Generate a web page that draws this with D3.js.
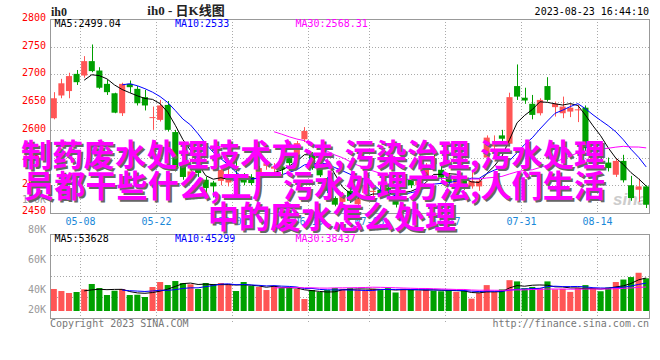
<!doctype html>
<html>
<head>
<meta charset="utf-8">
<title>ih0 - 日K线图</title>
<script src="https://d3js.org/d3.v7.min.js"></script>
<style>
  body { margin: 0; background: #fff; }
  text { font-family: "DejaVu Sans Mono", monospace; font-size: 10px; }
</style>
</head>
<body>
<script>

// trading days shown on the chart
var dates = ['04-27','04-28','05-04','05-05','05-08','05-09','05-10','05-11','05-12','05-15',
  '05-16','05-17','05-18','05-19','05-22','05-23','05-24','05-25','05-26','05-29',
  '05-30','05-31','06-01','06-02','06-05','06-06','06-07','06-08','06-09','06-12',
  '06-13','06-14','06-15','06-16','06-19','06-20','06-21','06-26','06-27','06-28',
  '06-29','06-30','07-03','07-04','07-05','07-06','07-07','07-10','07-11','07-12',
  '07-13','07-14','07-17','07-18','07-19','07-20','07-21','07-24','07-25','07-26',
  '07-27','07-28','07-31','08-01','08-02','08-03','08-04','08-07','08-08','08-09',
  '08-10','08-11','08-14','08-15','08-16','08-17','08-18','08-21','08-22'];

var open = [2621,2662,2670,2701,2698,2724,2707,2683,2666,2630,
  2683,2674,2659,2622,2618,2645,2596,2535,2512,2537,
  2510,2505,2508,2505,2520,2516,2515,2513,2535,2530,
  2534,2549,2555,2583,2556,2531,2513,2477,2470,2490,
  2466,2486,2488,2492,2496,2477,2501,2510,2500,2512,
  2548,2528,2518,2500,2510,2498,2498,2550,2570,2590,
  2575,2679,2658,2647,2630,2679,2641,2630,2633,2636,
  2640,2540,2558,2541,2519,2544,2500,2492,2498];
var high = [2668,2692,2703,2708,2733,2754,2713,2690,2667,2685,
  2689,2679,2672,2642,2654,2652,2600,2548,2530,2552,
  2515,2508,2533,2530,2555,2522,2520,2535,2545,2540,
  2538,2555,2580,2605,2560,2535,2515,2480,2488,2495,
  2480,2505,2495,2498,2500,2482,2516,2515,2515,2540,
  2556,2540,2522,2512,2515,2528,2512,2590,2590,2600,
  2667,2718,2676,2663,2657,2695,2651,2660,2647,2645,
  2644,2556,2565,2550,2548,2555,2517,2512,2500];
var low = [2619,2657,2657,2681,2694,2704,2674,2663,2630,2625,
  2667,2644,2635,2600,2615,2597,2525,2510,2505,2515,
  2480,2478,2500,2498,2500,2500,2500,2508,2528,2522,
  2515,2535,2550,2578,2528,2515,2486,2462,2465,2468,
  2460,2482,2478,2478,2480,2460,2498,2495,2496,2508,
  2532,2510,2500,2495,2492,2494,2490,2545,2562,2580,
  2570,2654,2647,2619,2626,2651,2624,2621,2623,2614,
  2562,2535,2545,2525,2515,2505,2472,2470,2459];
var close = [2657,2684,2697,2686,2724,2706,2676,2668,2631,2683,
  2677,2648,2644,2623,2644,2600,2530,2515,2525,2522,
  2495,2498,2528,2510,2512,2505,2504,2531,2540,2534,
  2528,2540,2576,2598,2531,2518,2490,2465,2482,2472,
  2476,2501,2490,2483,2484,2465,2513,2500,2512,2535,
  2538,2514,2505,2508,2496,2508,2508,2586,2575,2584,
  2659,2660,2653,2627,2654,2654,2647,2642,2640,2637,
  2567,2550,2553,2531,2544,2509,2477,2498,2465];
var volume = [35700,32400,29200,30800,35200,43800,37300,25900,32900,35700,
  25900,26400,22700,38900,47000,42100,48600,45400,43300,35700,
  45400,43800,45400,43800,32400,47000,40500,38900,34000,40500,
  37300,38900,35700,19400,34000,30800,34000,37300,36000,37000,
  35000,33000,36000,34000,37000,30000,36000,35000,33000,35000,
  33000,32000,34000,31000,33000,20000,29000,42000,31000,35000,
  50000,48000,37000,39000,37000,48000,35000,36000,31000,37000,
  42000,36000,32000,38000,47000,51000,55000,62000,53000];

var priceTicks = [2800, 2750, 2700, 2650, 2600, 2550, 2500, 2450];
var volTicks = [100000, 80000, 60000, 40000, 20000];
var volTickLabels = ['100K', '80K', '60K', '40K', '20K'];
var dateTicks = ['05-08','05-22','06-05','06-19','07-03','07-17','07-31','08-14'];
var priceHeader = ['MA5:2499.04', 'MA10:2533', 'MA30:2568.31'];
var volHeader = ['MA5:53628', 'MA10:45299', 'MA30:38437'];
var maPeriods = [5, 10, 30];
var maColors = ['#000000', '#0000ff', '#ff00ff'];
var titleLines = ['制药废水处理技术方法,污染治理,污水处理',
                  '员都干些什么,工厂污水处理方法,人们生活',
                  '中的废水怎么处理'];

var upColor = '#ff5555';
var downColor = '#00a000';

var svg = d3.select('body').append('svg')
  .attr('width', 660)
  .attr('height', 360);

// scales
var x = d3.scaleBand().domain(dates).range([50, 650]).paddingInner(0.2).paddingOuter(0.1);
var y = d3.scaleLinear().domain([2450, 2800]).range([213, 19]);
var vy = d3.scaleLinear().domain([0, 60000]).range([311, 274]);
var vLabel = d3.scaleLinear().domain([40000, 100000]).range([293.3, 203.3]);

function cx(d) { return x(d) + x.bandwidth() / 2; }
function gridX(d) { return Math.round(x(d) - x.step() * 0.1) + 0.5; }

// simple moving average, like the chart itself draws
function movingAverage(values, n) {
  return values.map(function (v, i) {
    if (i < n - 1) return null;
    return d3.mean(values.slice(i - n + 1, i + 1));
  });
}

var main = { top: 19, bottom: 213 };
var vol = { top: 234, bottom: 318 };

// grid lines
var grid = svg.append('g')
  .attr('stroke', '#aaa')
  .attr('stroke-dasharray', '1,2');

grid.selectAll('.hp')
  .data(priceTicks.slice(1, -1))
  .enter().append('line')
  .attr('x1', 51).attr('x2', 649)
  .attr('y1', function (d) { return Math.round(y(d)) + 0.5; })
  .attr('y2', function (d) { return Math.round(y(d)) + 0.5; });

grid.selectAll('.vp')
  .data(dateTicks)
  .enter().append('line')
  .attr('x1', gridX).attr('x2', gridX)
  .attr('y1', main.top).attr('y2', main.bottom);

grid.selectAll('.vv')
  .data(dateTicks)
  .enter().append('line')
  .attr('x1', gridX).attr('x2', gridX)
  .attr('y1', vol.top).attr('y2', vol.bottom + 4);

grid.selectAll('.hv')
  .data([0.25, 0.5, 0.75])
  .enter().append('line')
  .attr('x1', 51).attr('x2', 649)
  .attr('y1', function (d) { return Math.round(vol.top + d * (vol.bottom - vol.top)) + 0.5; })
  .attr('y2', function (d) { return Math.round(vol.top + d * (vol.bottom - vol.top)) + 0.5; });

// sina logo watermark
svg.append('text')
  .attr('x', 647).attr('y', 205)
  .attr('text-anchor', 'end')
  .style('font-family', 'Liberation Sans, sans-serif')
  .style('font-size', '17px')
  .style('font-weight', 'bold')
  .style('font-style', 'italic')
  .attr('fill', '#cccccc')
  .text('sina');

// candles
var candleData = dates.map(function (d, i) {
  return { date: d, o: open[i], h: high[i], l: low[i], c: close[i], v: volume[i] };
});

function colorOf(d) { return d.c >= d.o ? upColor : downColor; }

var candles = svg.append('g');
candles.selectAll('.wick')
  .data(candleData)
  .enter().append('line')
  .attr('x1', function (d) { return Math.round(cx(d.date)) + 0.5; })
  .attr('x2', function (d) { return Math.round(cx(d.date)) + 0.5; })
  .attr('y1', function (d) { return y(d.h); })
  .attr('y2', function (d) { return y(d.l); })
  .attr('stroke', colorOf);

candles.selectAll('.body')
  .data(candleData)
  .enter().append('rect')
  .attr('x', function (d) { return x(d.date); })
  .attr('width', x.bandwidth())
  .attr('y', function (d) { return y(Math.max(d.o, d.c)); })
  .attr('height', function (d) { return Math.max(1, Math.abs(y(d.o) - y(d.c))); })
  .attr('fill', colorOf);

// price moving averages
var line = d3.line()
  .defined(function (d) { return d.v !== null; })
  .x(function (d) { return cx(d.date); })
  .y(function (d) { return d.yv; });

maPeriods.forEach(function (n, k) {
  var ma = movingAverage(close, n);
  svg.append('path')
    .datum(dates.map(function (d, i) { return { date: d, v: ma[i], yv: ma[i] === null ? 0 : y(ma[i]) }; }))
    .attr('fill', 'none')
    .attr('stroke', maColors[k])
    .attr('stroke-width', 1)
    .attr('d', line);
});

// volume bars
svg.append('g').selectAll('rect')
  .data(candleData)
  .enter().append('rect')
  .attr('x', function (d) { return x(d.date); })
  .attr('width', x.bandwidth())
  .attr('y', function (d) { return vy(d.v); })
  .attr('height', function (d) { return vy(0) - vy(d.v); })
  .attr('fill', colorOf);

maPeriods.forEach(function (n, k) {
  var ma = movingAverage(volume, n);
  svg.append('path')
    .datum(dates.map(function (d, i) { return { date: d, v: ma[i], yv: ma[i] === null ? 0 : vy(ma[i]) }; }))
    .attr('fill', 'none')
    .attr('stroke', maColors[k])
    .attr('stroke-width', 1)
    .attr('d', line);
});

// panel borders
[main, vol].forEach(function (p) {
  svg.append('rect')
    .attr('x', 50.5).attr('y', p.top + 0.5)
    .attr('width', 599).attr('height', p.bottom - p.top)
    .attr('fill', 'none')
    .attr('stroke', '#999');
});

// price axis labels
svg.selectAll('.plabel')
  .data(priceTicks)
  .enter().append('text')
  .attr('x', 46)
  .attr('y', function (d) { return Math.min(y(d) + 2, 214); })
  .attr('text-anchor', 'end')
  .attr('fill', '#ff0000')
  .text(function (d) { return d; });

// volume axis labels
svg.selectAll('.vlabel')
  .data(volTicks)
  .enter().append('text')
  .attr('x', 46)
  .attr('y', function (d) { return Math.min(vLabel(d), 313.3); })
  .attr('text-anchor', 'end')
  .attr('fill', '#999999')
  .text(function (d, i) { return volTickLabels[i]; });

// date labels
svg.selectAll('.dlabel')
  .data(dateTicks)
  .enter().append('text')
  .attr('x', gridX)
  .attr('y', 225)
  .attr('text-anchor', 'middle')
  .attr('fill', '#1a88d8')
  .text(function (d) { return d; });

// MA headers
priceHeader.forEach(function (t, k) {
  svg.append('text').attr('x', 54.5 + k * 120.5).attr('y', 27)
    .attr('fill', maColors[k]).text(t);
});
volHeader.forEach(function (t, k) {
  svg.append('text').attr('x', 54.5 + k * 120.5).attr('y', 242)
    .attr('fill', maColors[k]).text(t);
});

// titles
svg.append('text')
  .attr('x', 51).attr('y', 16)
  .style('font-family', 'Liberation Serif, serif')
  .style('font-size', '12px')
  .style('font-weight', 'bold')
  .attr('fill', '#222')
  .text('ih0');

svg.append('text')
  .attr('x', 186).attr('y', 15)
  .attr('text-anchor', 'middle')
  .style('font-family', 'Liberation Serif, "Noto Sans CJK SC", serif')
  .style('font-size', '13px')
  .style('font-weight', 'bold')
  .attr('fill', '#222')
  .text('ih0 - 日K线图');

svg.append('text')
  .attr('x', 649).attr('y', 15)
  .attr('text-anchor', 'end')
  .attr('fill', '#000')
  .text('2023-08-23 16:44:10');

svg.append('text')
  .attr('x', 50).attr('y', 327)
  .attr('fill', '#777')
  .text('Copyright 2023 SINA.COM');

svg.append('text')
  .attr('x', 649).attr('y', 327)
  .attr('text-anchor', 'end')
  .attr('fill', '#777')
  .text('http://finance.sina.com.cn');

// big overlay caption
var captionPos = [
  { x: 21, y: 152, w: 584 },
  { x: 23, y: 183, w: 582 },
  { x: 208, y: 214, w: 248 }
];

[{ dx: 2, dy: 2, fill: '#666666' }, { dx: 0, dy: 0, fill: '#ff00ff' }].forEach(function (layer) {
  svg.append('g').selectAll('text')
    .data(titleLines)
    .enter().append('text')
    .attr('x', function (d, i) { return captionPos[i].x + layer.dx; })
    .attr('y', function (d, i) { return captionPos[i].y + layer.dy; })
    .attr('dominant-baseline', 'central')
    .attr('textLength', function (d, i) { return captionPos[i].w; })
    .attr('lengthAdjust', 'spacing')
    .style('font-family', '"Noto Sans CJK SC", sans-serif')
    .style('font-size', '31px')
    .style('font-weight', 'bold')
    .attr('fill', layer.fill)
    .text(function (d) { return d; });
});

</script>
</body>
</html>
